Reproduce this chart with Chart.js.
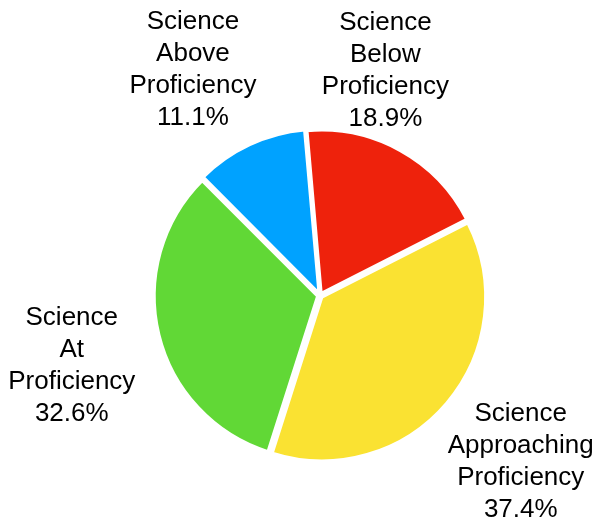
<!DOCTYPE html>
<html lang="en">
<head>
    <meta charset="UTF-8">
    <title>Science Proficiency</title>
    <script src="https://cdn.jsdelivr.net/npm/chart.js"></script>
    <style>
        body {
            margin: 0;
            padding: 0;
            background-color: #ffffff;
        }

        .chart-container {
            width: 598px;
            height: 522px;
        }
    </style>
</head>
<body>

    <div class="chart-container">
        <canvas id="scienceChart"></canvas>
    </div>

    <script>
        // Data, clockwise from the top
        const categories = [
            ['Science', 'Below', 'Proficiency'],
            ['Science', 'Approaching', 'Proficiency'],
            ['Science', 'At', 'Proficiency'],
            ['Science', 'Above', 'Proficiency']
        ];
        const percentages = [18.9, 37.4, 32.6, 11.1];
        const sliceColors = ['#EE220C', '#FAE232', '#61D836', '#00A2FF'];

        // Small per-label nudges so the text sits where the original puts it
        const labelNudge = [[-61, 4], [-5, -3], [5, 9], [-17, 11]];

        // Draws the multi-line labels outside each slice
        const outsideLabels = {
            id: 'outsideLabels',
            afterDatasetsDraw(chart) {
                const ctx = chart.ctx;
                const meta = chart.getDatasetMeta(0);
                const fontSize = 26;
                const lineHeight = 32;
                const pad = 34;
                ctx.save();
                ctx.font = fontSize + 'px "Liberation Sans", Arial, sans-serif';
                ctx.fillStyle = '#000000';
                ctx.textAlign = 'center';
                ctx.textBaseline = 'middle';
                meta.data.forEach((arc, i) => {
                    const lines = categories[i].concat([percentages[i].toFixed(1) + '%']);
                    const mid = (arc.startAngle + arc.endAngle) / 2;
                    const dx = Math.cos(mid);
                    const dy = Math.sin(mid);
                    const w = Math.max(...lines.map(l => ctx.measureText(l).width));
                    const h = lines.length * lineHeight;
                    const px = arc.x + dx * arc.outerRadius;
                    const py = arc.y + dy * arc.outerRadius;
                    const cx = px + dx * (w / 2 + pad) + labelNudge[i][0];
                    const cy = py + dy * (h / 2 + pad) + labelNudge[i][1];
                    lines.forEach((line, j) => {
                        ctx.fillText(line, cx, cy - h / 2 + lineHeight * (j + 0.5));
                    });
                });
                ctx.restore();
            }
        };

        function initializeChart() {
            const ctx = document.getElementById('scienceChart').getContext('2d');
            new Chart(ctx, {
                type: 'pie',
                data: {
                    labels: categories.map(c => c.join(' ')),
                    datasets: [{
                        data: percentages,
                        backgroundColor: sliceColors,
                        borderColor: '#ffffff',
                        borderWidth: 3,
                        offset: 10
                    }]
                },
                options: {
                    responsive: true,
                    maintainAspectRatio: false,
                    animation: false,
                    rotation: -5,
                    layout: {
                        padding: { left: 150, right: 108, top: 126, bottom: 57 }
                    },
                    plugins: {
                        legend: { display: false },
                        tooltip: { enabled: false }
                    }
                },
                plugins: [outsideLabels]
            });
        }

        window.onload = initializeChart;
    </script>

</body>
</html>
